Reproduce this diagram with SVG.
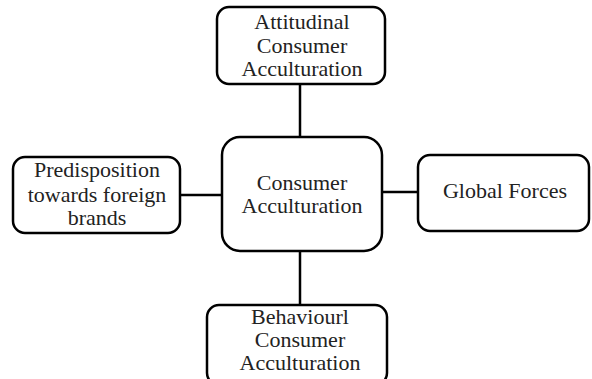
<svg xmlns="http://www.w3.org/2000/svg" width="592" height="379" viewBox="0 0 592 379">
<style>
.box{fill:#fff;stroke:#000;stroke-width:2.5}
.t{font-family:"Liberation Serif","Times New Roman",serif;font-size:22px;fill:#222;text-anchor:middle}
.c{stroke:#000;stroke-width:2.5;fill:none}
</style>
<rect width="592" height="379" fill="#fff"/>
<g id="connectors">
<line class="c" x1="300" y1="84" x2="300" y2="138"/>
<line class="c" x1="180" y1="195" x2="222" y2="195"/>
<line class="c" x1="383" y1="192" x2="418" y2="192"/>
<line class="c" x1="300" y1="251" x2="300" y2="306"/>
</g>
<g id="attitudinal">
<rect class="box" x="217" y="7" width="168" height="77" rx="12"/>
<text class="t" x="302" y="29">Attitudinal</text>
<text class="t" x="302" y="53">Consumer</text>
<text class="t" x="302" y="76">Acculturation</text>
</g>
<g id="center">
<rect class="box" x="222" y="137" width="160" height="114" rx="18"/>
<text class="t" x="302" y="190">Consumer</text>
<text class="t" x="302" y="213">Acculturation</text>
</g>
<g id="predisposition">
<rect class="box" x="13" y="157" width="167" height="76" rx="12"/>
<text class="t" x="97" y="177">Predisposition</text>
<text class="t" x="97" y="202">towards foreign</text>
<text class="t" x="97" y="225">brands</text>
</g>
<g id="global">
<rect class="box" x="418" y="155" width="171" height="76" rx="12"/>
<text class="t" x="505" y="198">Global Forces</text>
</g>
<g id="behavioural">
<rect class="box" x="207" y="305" width="180" height="80" rx="12"/>
<text class="t" x="300" y="324">Behaviourl</text>
<text class="t" x="300" y="347">Consumer</text>
<text class="t" x="300" y="370">Acculturation</text>
</g>
</svg>
